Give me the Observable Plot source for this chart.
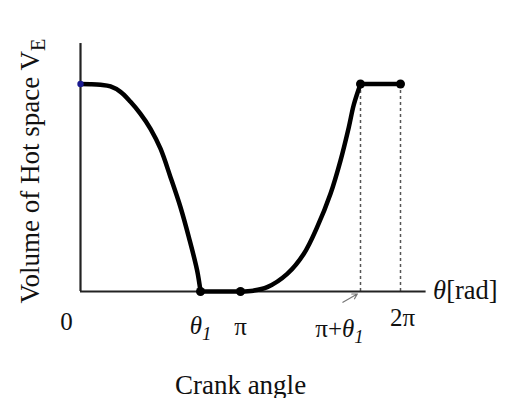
<!DOCTYPE html>
<html>
<head>
<meta charset="utf-8">
<script src="https://cdn.jsdelivr.net/npm/d3@7"></script>
<script src="https://cdn.jsdelivr.net/npm/@observablehq/plot@0.6"></script>
<style>
  html, body { margin: 0; padding: 0; background: #fff; }
</style>
</head>
<body>
<div id="chart"></div>
<script>
// Crank angles are given in units of π.
const THETA1 = 0.75;

// Expansion-space volume falling from its maximum to zero (0 → θ1)
const fallTheta  = [0, 0.0625, 0.125, 0.1875, 0.25, 0.3125, 0.375, 0.4375, 0.5, 0.5625, 0.625, 0.677, 0.729, THETA1];
const fallVolume = [1, 0.999, 0.996, 0.988, 0.962, 0.914, 0.856, 0.784, 0.688, 0.551, 0.406, 0.262, 0.101, 0];

// Volume rising back to its maximum (π → π+θ1)
const riseTheta  = [1.0, 1.08, 1.167, 1.292, 1.396, 1.479, 1.5625, 1.625, 1.677, 1.708, 1 + THETA1];
const riseVolume = [0, 0.004, 0.021, 0.085, 0.182, 0.310, 0.471, 0.631, 0.792, 0.900, 1];

// Dwell points where the volume stays constant
const dwellTheta  = [THETA1, 1, 1 + THETA1, 2];
const dwellVolume = [0, 0, 1, 1];

// Axis ticks
const tickValues = [0, THETA1, 1, 1 + THETA1, 2];
const tickLabels = ["0", "θ1", "π", "π+θ1", "2π"];

const xTitle = "Crank angle";
const xUnit = "θ[rad]";
const yTitle = "Volume of Hot space VE";

const rad = (t) => t * Math.PI;
const pts = (ts, vs) => ts.map((t, i) => ({theta: rad(t), v: vs[i]}));

const fall = pts(fallTheta, fallVolume);
const rise = pts(riseTheta, riseVolume);
const dwellLow = pts(dwellTheta.slice(0, 2), dwellVolume.slice(0, 2));
const dwellHigh = pts(dwellTheta.slice(2), dwellVolume.slice(2));
const markers = pts(dwellTheta, dwellVolume);

const X_END = rad(2.16);   // extent of the horizontal axis line
const Y_END = 1.195;       // extent of the vertical axis line
const FONT = "Liberation Serif, Times New Roman, serif";

// label offsets (px) relative to each tick on the axis
const tickOffsets = [[-14, 38], [0, 42], [0, 43], [-21, 45], [2, 34]];

const curveStyle = {x: "theta", y: "v", stroke: "#000", strokeWidth: 4.5, strokeLinecap: "round", strokeLinejoin: "round"};

const plot = Plot.plot({
  width: 509,
  height: 398,
  marginLeft: 80,
  marginRight: 109,
  marginTop: 83.5,
  marginBottom: 107,
  style: {fontFamily: FONT, background: "#fff", color: "#000"},
  x: {domain: [0, rad(2)], axis: null},
  y: {domain: [0, 1], axis: null},
  marks: [
    // guides from the axis up to the plateau
    Plot.ruleX([rad(1 + THETA1), rad(2)], {y1: 0, y2: 1, stroke: "#555", strokeWidth: 1.5, strokeDasharray: "3,3"}),
    // axes
    Plot.ruleX([0], {y1: 0, y2: Y_END, stroke: "#222", strokeWidth: 2.2}),
    Plot.ruleY([0], {x1: 0, x2: X_END, stroke: "#222", strokeWidth: 2.2}),
    // pointer from the π+θ1 label to its tick
    Plot.arrow([{x1: rad(1 + THETA1 - 0.11), y1: -0.052, x2: rad(1 + THETA1 - 0.02), y2: -0.012}], {
      x1: "x1", y1: "y1", x2: "x2", y2: "y2", stroke: "#777", strokeWidth: 1.2, headLength: 7
    }),
    // volume curve
    Plot.line(fall, {...curveStyle, curve: "catmull-rom"}),
    Plot.line(dwellLow, curveStyle),
    Plot.line(rise, {...curveStyle, curve: "catmull-rom"}),
    Plot.line(dwellHigh, curveStyle),
    Plot.dot([fall[0]], {x: "theta", y: "v", r: 3.2, fill: "#1a1a90"}),
    Plot.dot(markers, {x: "theta", y: "v", r: 4.5, fill: "#000"}),
    // tick labels
    ...tickLabels.map((label, i) => Plot.text([label], {
      x: rad(tickValues[i]), y: 0, text: d => d,
      dx: tickOffsets[i][0], dy: tickOffsets[i][1],
      lineAnchor: "bottom", textAnchor: "middle", fontSize: 25, fill: "#111"
    })),
    // axis titles
    Plot.text([xUnit], {x: X_END, y: 0, text: d => d, textAnchor: "start", lineAnchor: "bottom", dx: 7, dy: 7, fontSize: 26.5, fill: "#111"}),
    Plot.text([xTitle], {frameAnchor: "bottom", text: d => d, lineAnchor: "bottom", dy: 102, fontSize: 27, fill: "#111"}),
    Plot.text([yTitle], {frameAnchor: "bottom-left", text: d => d, rotate: -90, textAnchor: "start", lineAnchor: "bottom", dx: -42, dy: 12, fontSize: 27, fill: "#111"})
  ]
});

// Rebuild labels that need italics and subscripts as tspans.
const rich = {
  "θ1": [{t: "θ", i: true}, {t: "1", i: true, sub: true}],
  "π+θ1": [{t: "π+"}, {t: "θ", i: true}, {t: "1", i: true, sub: true}],
  "θ[rad]": [{t: "θ", i: true}, {t: "[rad]"}],
  "Volume of Hot space VE": [{t: "Volume of Hot space V"}, {t: "E", sub: true}]
};
d3.select(plot).selectAll("text").each(function () {
  const parts = rich[this.textContent];
  if (!parts) return;
  const el = d3.select(this).text(null);
  parts.forEach(p => {
    const ts = el.append("tspan").text(p.t);
    if (p.i) ts.attr("font-style", "italic");
    if (p.sub) ts.attr("font-size", "0.75em").attr("dy", 6);
  });
});

document.getElementById("chart").appendChild(plot);
</script>
</body>
</html>
